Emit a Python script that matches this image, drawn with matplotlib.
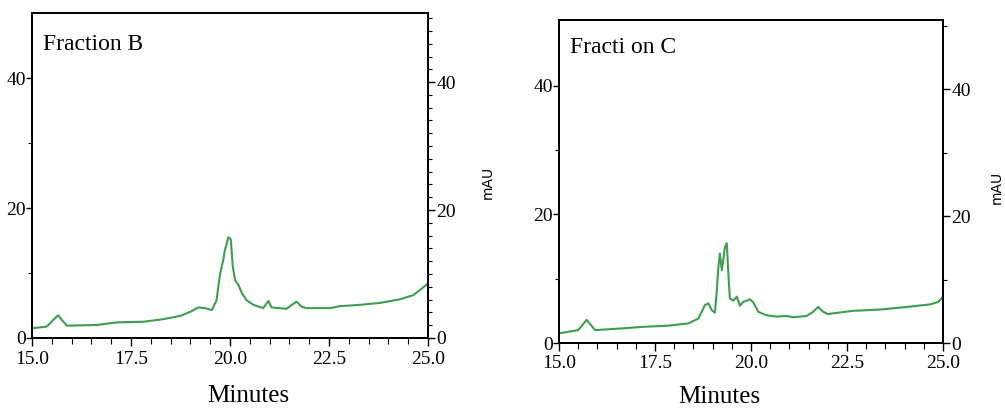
import matplotlib
matplotlib.use("Agg")
import matplotlib.pyplot as plt
from matplotlib.ticker import MultipleLocator, FixedLocator

# ---- data ----
b_time = [15.0, 15.37, 15.54, 15.66, 15.75, 15.88, 16.63, 17.14, 17.81, 18.32, 18.74,
          18.99, 19.2, 19.37, 19.54, 19.66, 19.75, 19.83, 19.87, 19.96, 20.02, 20.07,
          20.13, 20.21, 20.3, 20.42, 20.59, 20.84, 20.97, 21.05, 21.22, 21.43, 21.56,
          21.68, 21.81, 21.94, 22.53, 22.78, 23.28, 23.79, 24.29, 24.63, 24.8, 25.0]
b_mau = [1.5, 1.75, 2.8, 3.5, 2.8, 1.9, 2.0, 2.4, 2.5, 2.9, 3.4,
         4.0, 4.7, 4.6, 4.3, 5.8, 9.9, 12.0, 13.5, 15.5, 15.2, 11.0,
         8.9, 8.2, 6.9, 5.8, 5.1, 4.6, 5.7, 4.7, 4.6, 4.5, 5.1,
         5.6, 4.8, 4.6, 4.6, 4.9, 5.1, 5.4, 5.95, 6.6, 7.4, 8.4]

c_time = [15.0, 15.5, 15.72, 15.94, 16.72, 17.15, 17.85, 18.37, 18.63, 18.8, 18.89,
          18.98, 19.06, 19.11, 19.15, 19.19, 19.24, 19.28, 19.32, 19.37, 19.41, 19.45,
          19.54, 19.63, 19.71, 19.8, 19.9, 19.97, 20.06, 20.19, 20.41, 20.67, 20.93,
          21.1, 21.45, 21.62, 21.75, 21.88, 22.0, 22.66, 23.36, 24.05, 24.66, 24.88, 25.0]
c_mau = [1.5, 2.0, 3.6, 2.0, 2.3, 2.5, 2.7, 3.05, 3.8, 5.9, 6.15,
         5.1, 4.7, 8.2, 11.8, 13.9, 11.3, 13.0, 14.9, 15.5, 10.8, 6.9,
         6.6, 7.2, 5.8, 6.4, 6.6, 6.8, 6.3, 4.85, 4.3, 4.1, 4.2,
         4.0, 4.2, 4.85, 5.6, 4.85, 4.5, 5.0, 5.2, 5.6, 6.0, 6.4, 7.2]

x_ticks = [15.0, 17.5, 20.0, 22.5, 25.0]
x_labels = ["15.0", "17.5", "20.0", "22.5", "25.0"]
y_ticks = [0, 20, 40]
y_labels = ["0", "20", "40"]
titles = ["Fraction B", "Fracti on C"]
x_title = "Minutes"
y_title = "mAU"

# ---- figure ----
W, H = 1005, 408
fig = plt.figure(figsize=(W / 100, H / 100), dpi=100)
serif = "Liberation Serif"
line_color = "#3f9d4f"

panels = [
    dict(rect=[32 / W, 70 / H, 396 / W, 325 / H], t=b_time, v=b_mau, title=titles[0],
         title_xy=(0.028, 0.886), ytop_l=50.0, ytop_r=50.8, rminor=2,
         xlab=(248 / W, 6 / H), ylab=(488 / W, 226 / H)),
    dict(rect=[559 / W, 65 / H, 384 / W, 323 / H], t=c_time, v=c_mau, title=titles[1],
         title_xy=(0.029, 0.898), ytop_l=50.2, ytop_r=50.9, rminor=10,
         xlab=(719 / W, 5 / H), ylab=(997 / W, 221 / H)),
]

for p in panels:
    ax = fig.add_axes(p["rect"])
    ax.plot(p["t"], p["v"], color=line_color, lw=1.5, solid_joinstyle="round")
    ax.set_xlim(15.0, 25.0)
    ax.set_ylim(0, p["ytop_l"])
    ax.set_xticks(x_ticks)
    ax.set_xticklabels(x_labels, family=serif, fontsize=14)
    ax.set_yticks(y_ticks)
    ax.set_yticklabels(y_labels, family=serif, fontsize=14)
    ax.xaxis.set_minor_locator(MultipleLocator(0.5))
    ax.yaxis.set_minor_locator(FixedLocator([10, 30]))
    ax.tick_params(axis="x", which="major", direction="out", length=6, width=1.0, pad=3)
    ax.tick_params(axis="x", which="minor", direction="out", length=4, width=0.8)
    ax.tick_params(axis="y", which="major", direction="out", length=4, width=1.0, pad=0.5)
    ax.tick_params(axis="y", which="minor", direction="out", length=3, width=0.8)
    for s in ax.spines.values():
        s.set_linewidth(1.3)
    ax.text(p["title_xy"][0], p["title_xy"][1], p["title"], transform=ax.transAxes,
            family=serif, fontsize=17, va="baseline", ha="left")

    ax2 = ax.twinx()
    ax2.set_ylim(0, p["ytop_r"])
    ax2.set_yticks(y_ticks)
    ax2.set_yticklabels(y_labels, family=serif, fontsize=14)
    ax2.yaxis.set_minor_locator(MultipleLocator(p["rminor"]))
    ax2.tick_params(axis="y", which="major", direction="out", length=5, width=1.0, pad=1)
    ax2.tick_params(axis="y", which="minor", direction="out", length=3, width=0.8)
    for s in ax2.spines.values():
        s.set_linewidth(1.3)

    fig.text(p["xlab"][0], p["xlab"][1], x_title, family=serif, fontsize=18,
             ha="center", va="baseline")
    fig.text(p["ylab"][0], p["ylab"][1], y_title, family="DejaVu Sans", fontsize=10,
             rotation=90, ha="center", va="center")

fig.savefig("out.png", dpi=100)
